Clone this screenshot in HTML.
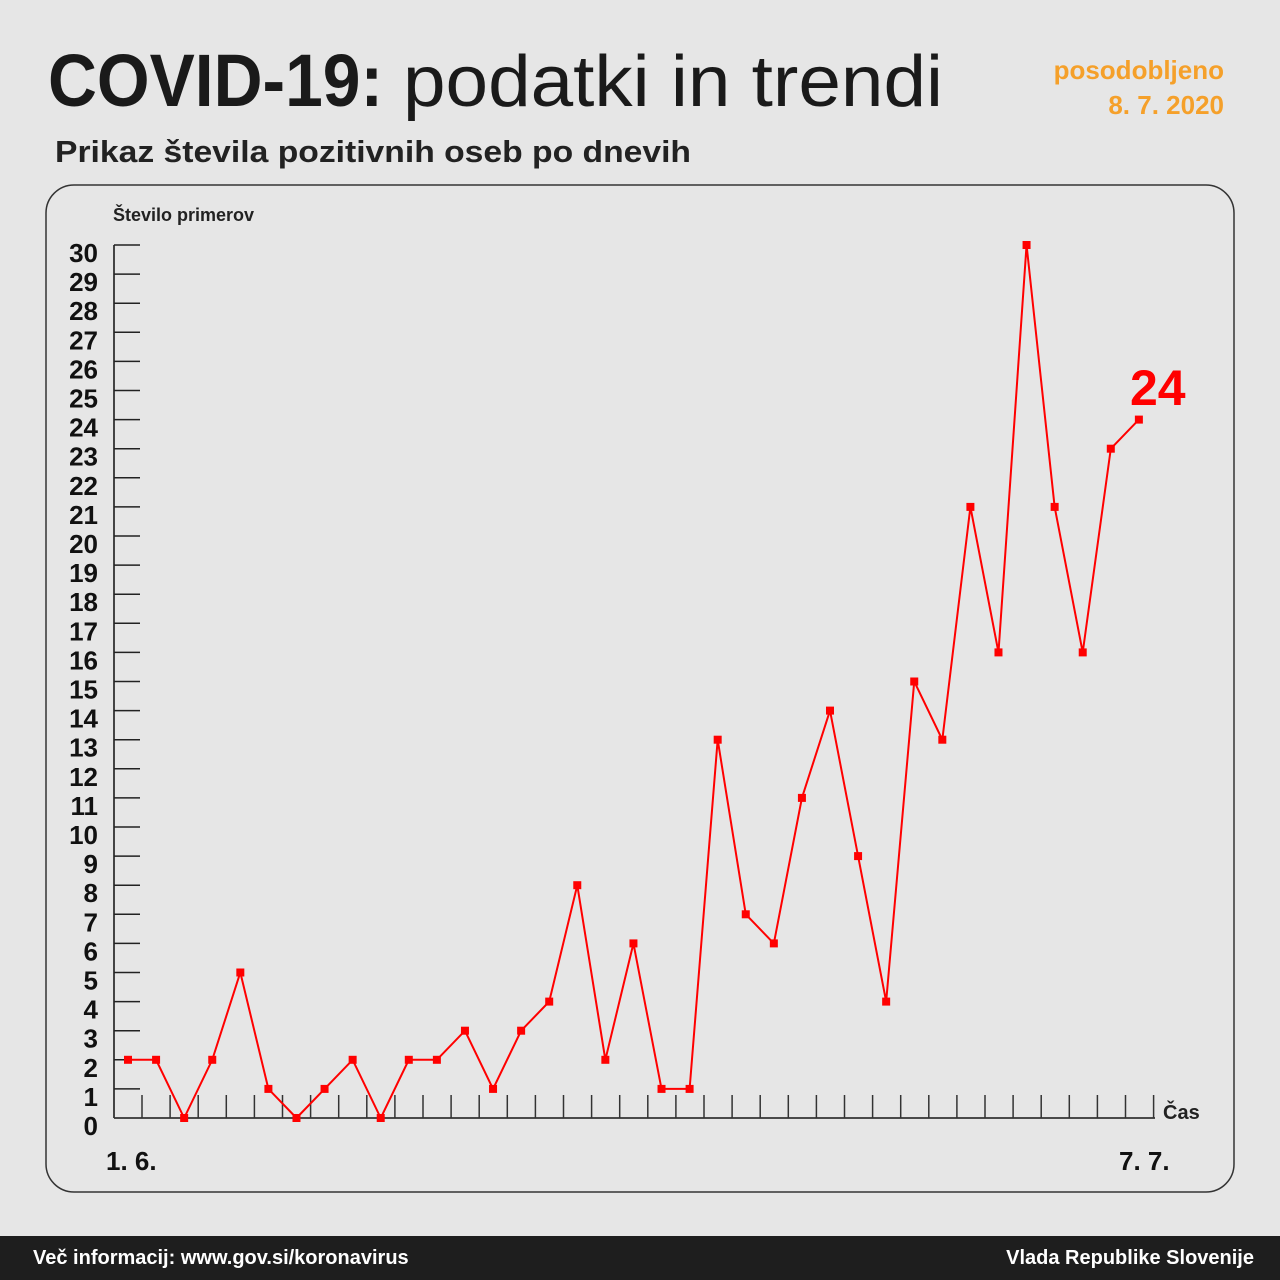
<!DOCTYPE html>
<html><head><meta charset="utf-8"><style>
body{margin:0;width:1280px;height:1280px;background:#e6e6e6;overflow:hidden;font-family:"Liberation Sans","DejaVu Sans",sans-serif}
</style></head><body>
<svg id="s" width="1280" height="1280" xmlns="http://www.w3.org/2000/svg" style="position:absolute;left:0;top:0">
<text x="48" y="106" font-size="74" font-weight="bold" fill="#1a1a1a" font-family="Liberation Sans, sans-serif" textLength="335" lengthAdjust="spacingAndGlyphs">COVID-19:</text>
<text x="403" y="106" font-size="72" fill="#1a1a1a" textLength="540" lengthAdjust="spacingAndGlyphs">podatki in trendi</text>
<text x="1224" y="79" font-size="26" font-weight="bold" fill="#f5a02a" text-anchor="end">posodobljeno</text>
<text x="1224" y="114" font-size="26" font-weight="bold" fill="#f5a02a" text-anchor="end">8. 7. 2020</text>
<text x="55" y="162" font-size="31" font-weight="bold" fill="#222" textLength="636" lengthAdjust="spacingAndGlyphs">Prikaz števila pozitivnih oseb po dnevih</text>
<rect x="46" y="185" width="1188" height="1007" rx="28" fill="none" stroke="#333" stroke-width="1.5"/>
<text x="113" y="221" font-size="18" font-weight="bold" fill="#222">Število primerov</text>
<text x="1163" y="1119" font-size="20" font-weight="bold" fill="#222">Čas</text>
<text x="106" y="1170" font-size="26" font-weight="bold" fill="#111">1. 6.</text>
<text x="1119" y="1170" font-size="26" font-weight="bold" fill="#111">7. 7.</text>
<text x="1130" y="405" font-size="50" font-weight="bold" fill="#ff0000">24</text>
<g id="ax" stroke="#333" stroke-width="1.8"></g>
<g id="yl" font-size="26" font-weight="bold" fill="#111" text-anchor="end"></g>
<g id="ser"></g>
<rect x="0" y="1236" width="1280" height="44" fill="#1e1e1e"/>
<text x="33" y="1264" font-size="20" font-weight="bold" fill="#fff">Več informacij: www.gov.si/koronavirus</text>
<text x="1254" y="1264" font-size="20" font-weight="bold" fill="#fff" text-anchor="end">Vlada Republike Slovenije</text>
</svg>
<script>
var NS="http://www.w3.org/2000/svg";
function el(p,t,a,txt){var e=document.createElementNS(NS,t);for(var k in a)e.setAttribute(k,a[k]);if(txt!=null)e.textContent=txt;document.getElementById(p).appendChild(e);}
var y0=1118,u=29.1;
el("ax","line",{x1:114,y1:245,x2:114,y2:y0});
el("ax","line",{x1:114,y1:y0,x2:1155,y2:y0});
for(var i=0;i<=30;i++){var y=y0-i*u;if(i>0)el("ax","line",{x1:114,y1:y,x2:140,y2:y,"stroke-width":1.5,stroke:"#222"});
el("yl","text",{x:98,y:y+17},String(i));}
for(var x=142;x<=1156;x+=28.1)el("ax","line",{x1:x,y1:1095,x2:x,y2:y0,"stroke-width":1.5});
var d=[2,2,0,2,5,1,0,1,2,0,2,2,3,1,3,4,8,2,6,1,1,13,7,6,11,14,9,4,15,13,21,16,30,21,16,23,24];
var pts=d.map(function(v,i){return [128+i*28.08,y0-v*u];});
el("ser","polyline",{points:pts.map(function(p){return p.join(",")}).join(" "),fill:"none",stroke:"#ff0000","stroke-width":2});
pts.forEach(function(p){el("ser","rect",{x:p[0]-4,y:p[1]-4,width:8,height:8,fill:"#ff0000"});});
</script>
</body></html>
